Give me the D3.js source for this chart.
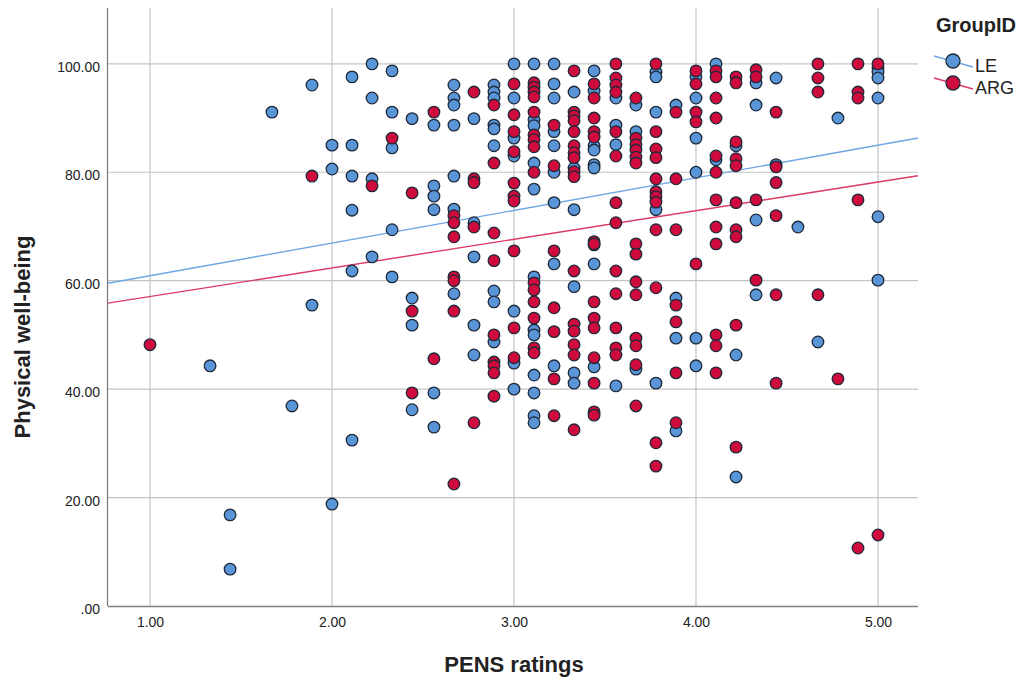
<!DOCTYPE html>
<html><head><meta charset="utf-8">
<script src="https://cdn.jsdelivr.net/npm/d3@7"></script>
<style>body{margin:0;background:#fff}svg{display:block}text{font-family:"Liberation Sans",Arial,sans-serif}</style>
</head><body><svg id="c" width="1029" height="686"></svg>
<script>
// ---- data ----
const groups = ["LE", "ARG"];
const xTicks = [1, 2, 3, 4, 5];
const yTicks = [0, 20, 40, 60, 80, 100];
// LE: PENS rating, physical well-being
const leX = [1.33,1.44,1.44,1.67,1.78,1.89,1.89,2.00,2.00,2.00,
 2.11,2.11,2.11,2.11,2.11,2.11,2.22,2.22,2.22,2.22,
 2.33,2.33,2.33,2.33,2.33,2.44,2.44,2.44,2.44,
 2.56,2.56,2.56,2.56,2.56,2.56,
 2.67,2.67,2.67,2.67,2.67,2.67,2.67,
 2.78,2.78,2.78,2.78,2.78,
 2.89,2.89,2.89,2.89,2.89,2.89,2.89,2.89,2.89,
 3.00,3.00,3.00,3.00,3.00,3.00,3.00,
 3.11,3.11,3.11,3.11,3.11,3.11,3.11,3.11,3.11,3.11,3.11,3.11,
 3.22,3.22,3.22,3.22,3.22,3.22,3.22,3.22,3.22,
 3.33,3.33,3.33,3.33,3.33,3.33,
 3.44,3.44,3.44,3.44,3.44,3.44,3.44,3.44,3.44,
 3.56,3.56,3.56,3.56,3.67,3.67,3.67,
 3.78,3.78,3.78,3.78,3.78,3.89,3.89,3.89,3.89,
 4.00,4.00,4.00,4.00,4.00,4.00,4.11,4.11,4.22,4.22,4.22,
 4.33,4.33,4.33,4.33,4.44,4.44,4.56,4.67,4.78,
 5.00,5.00,5.00,5.00,5.00,5.00];
const leY = [44.3,16.8,6.8,91.1,36.9,96.1,55.5,85.0,80.6,18.8,
 97.6,85.0,79.3,73.0,61.8,30.6,100,93.7,78.8,64.4,
 98.7,91.1,84.5,69.4,60.7,89.9,56.8,51.8,36.2,
 88.7,77.5,75.6,73.1,39.3,33.0,
 96.1,93.7,92.4,88.7,79.3,73.2,57.6,
 89.9,70.7,64.4,51.8,46.3,
 96.1,94.8,93.7,88.7,88.0,84.9,58.1,56.1,48.7,
 100,93.7,86.3,83.0,54.4,44.8,40.0,
 100,89.7,88.6,81.7,76.9,60.7,50.9,50.0,42.6,39.3,35.1,33.8,
 100,96.3,93.7,87.5,84.9,80.0,74.4,63.1,44.3,
 94.8,80.8,73.1,58.9,43.0,41.1,
 98.7,95.0,84.9,84.1,81.4,80.8,66.6,63.1,44.1,
 93.7,88.7,85.1,40.6,92.4,87.5,43.7,
 98.5,97.6,91.1,73.1,41.1,92.4,56.8,49.4,32.3,
 97.6,93.7,86.3,80.0,49.4,44.3,100,82.3,84.9,46.3,23.8,
 96.5,92.4,71.2,57.4,97.4,81.4,69.9,48.7,90.0,
 99.3,98.5,97.4,93.7,71.8,60.1];
// ARG: PENS rating, physical well-being
const argX = [1.00,1.89,2.22,2.33,2.44,2.44,2.44,2.56,2.56,
 2.67,2.67,2.67,2.67,2.67,2.67,2.67,
 2.78,2.78,2.78,2.78,2.78,
 2.89,2.89,2.89,2.89,2.89,2.89,2.89,2.89,2.89,
 3.00,3.00,3.00,3.00,3.00,3.00,3.00,3.00,3.00,3.00,
 3.11,3.11,3.11,3.11,3.11,3.11,3.11,3.11,3.11,3.11,3.11,3.11,3.11,3.11,3.11,
 3.22,3.22,3.22,3.22,3.22,3.22,3.22,
 3.33,3.33,3.33,3.33,3.33,3.33,3.33,3.33,3.33,3.33,3.33,3.33,3.33,3.33,3.33,3.33,
 3.44,3.44,3.44,3.44,3.44,3.44,3.44,3.44,3.44,3.44,3.44,3.44,3.44,3.44,
 3.56,3.56,3.56,3.56,3.56,3.56,3.56,3.56,3.56,3.56,3.56,3.56,3.56,
 3.67,3.67,3.67,3.67,3.67,3.67,3.67,3.67,3.67,3.67,3.67,3.67,3.67,3.67,
 3.78,3.78,3.78,3.78,3.78,3.78,3.78,3.78,3.78,3.78,3.78,3.78,
 3.89,3.89,3.89,3.89,3.89,3.89,3.89,
 4.00,4.00,4.00,4.00,4.00,
 4.11,4.11,4.11,4.11,4.11,4.11,4.11,4.11,4.11,4.11,4.11,4.11,
 4.22,4.22,4.22,4.22,4.22,4.22,4.22,4.22,4.22,4.22,
 4.33,4.33,4.33,4.33,4.44,4.44,4.44,4.44,4.44,4.44,
 4.67,4.67,4.67,4.67,4.78,4.89,4.89,4.89,4.89,4.89,5.00,5.00];
const argY = [48.2,79.3,77.5,86.3,76.2,54.4,39.3,91.1,45.6,
 72.0,70.7,68.1,60.7,60.0,54.4,22.5,
 94.8,78.8,78.1,69.9,33.8,
 92.4,81.7,68.8,63.7,50.0,45.0,44.3,43.0,38.7,
 96.3,90.6,87.5,83.8,78.0,75.6,74.7,65.5,51.3,45.8,
 96.5,95.7,94.8,93.9,91.1,86.9,86.0,84.7,80.0,59.6,58.3,56.1,53.1,47.6,46.7,
 88.7,81.2,65.5,55.0,50.6,41.9,35.1,
 98.7,91.1,90.4,89.5,87.5,84.9,83.6,82.7,80.1,79.2,61.8,52.0,50.7,48.2,46.3,32.5,
 96.3,93.7,90.0,87.5,86.5,67.2,66.8,56.1,53.1,51.3,45.8,41.1,35.8,35.2,
 100,97.4,96.1,94.8,87.5,83.0,74.4,70.7,61.8,57.6,51.3,47.6,46.3,
 93.7,86.3,85.1,84.1,82.8,81.7,66.8,64.9,59.8,57.4,49.4,48.0,44.5,36.9,
 100,87.5,84.3,82.7,78.8,76.4,75.5,74.5,69.4,58.7,30.1,25.8,
 91.1,78.8,69.4,55.5,52.4,43.0,33.8,
 98.7,96.3,91.1,89.3,63.1,
 98.7,97.6,93.7,90.0,83.0,80.0,74.9,69.9,66.8,50.0,48.0,43.0,
 97.6,96.5,85.6,82.5,81.2,74.4,69.4,68.1,51.8,29.3,
 98.9,97.6,74.9,60.1,91.1,81.0,78.1,72.0,57.4,41.1,
 100,97.4,94.8,57.4,41.9,100,94.8,93.7,74.9,10.7,100,13.1];
// fit lines (intercept, slope)
const fitIntercept = [54.9, 51.8];
const fitSlope = [6.02, 5.28];

// ---- styles ----
const fills = ["#5a95d8", "#cf0a3c"];
const lineCols = ["#6fa6e3", "#dc3a64"];

const svg = d3.select("#c");
const L = 108, R = 918, T = 8, B = 606;
const x = d3.scaleLinear().domain([1 - (150 - L) / 182, 1 + (R - 150) / 182]).range([L, R]);
const y = d3.scaleLinear().domain([0, 110.3]).range([B, T]);

// gridlines
svg.append("g").selectAll("line").data(yTicks.filter(d => d > 0)).join("line")
  .attr("x1", L).attr("x2", R).attr("y1", d => y(d)).attr("y2", d => y(d))
  .attr("stroke", "#c4c4c4").attr("stroke-width", 1.2);
svg.append("g").selectAll("line").data(xTicks).join("line")
  .attr("x1", d => x(d)).attr("x2", d => x(d)).attr("y1", T).attr("y2", B)
  .attr("stroke", "#c4c4c4").attr("stroke-width", 1.2);

// axes
const fmt = d => { const s = d3.format(".2f")(d); return d === 0 ? s.replace(/^0/, "") : s; };
const yAxis = svg.append("g").attr("transform", `translate(${L},0)`)
  .call(d3.axisLeft(y).tickValues(yTicks).tickFormat(fmt).tickSize(0).tickPadding(8));
const xAxis = svg.append("g").attr("transform", `translate(0,${B})`)
  .call(d3.axisBottom(x).tickValues(xTicks).tickFormat(fmt).tickSize(0).tickPadding(11));
[yAxis, xAxis].forEach(g => {
  g.select(".domain").attr("stroke", "#808080").attr("stroke-width", 1.3);
  g.selectAll(".tick line").remove();
  g.selectAll(".tick text").attr("font-size", 14).attr("fill", "#222")
    .attr("font-family", "Liberation Sans, Arial, sans-serif");
});
yAxis.selectAll(".tick text").attr("dy", "0.55em");
yAxis.select(".domain").attr("d", `M-0.5,${B}V${T}`);
xAxis.select(".domain").attr("d", `M${L},0.5H${R}`);

// fit lines
groups.forEach((g, i) => {
  const d0 = x.domain();
  svg.append("line")
    .attr("x1", x(d0[0])).attr("y1", y(fitIntercept[i] + fitSlope[i] * d0[0]))
    .attr("x2", x(d0[1])).attr("y2", y(fitIntercept[i] + fitSlope[i] * d0[1]))
    .attr("stroke", lineCols[i]).attr("stroke-width", 1.4);
});

// points
const pts = [];
leX.forEach((v, i) => pts.push({x: v, y: leY[i], g: 0}));
argX.forEach((v, i) => pts.push({x: v, y: argY[i], g: 1}));
svg.append("g").selectAll("circle").data(pts).join("circle")
  .attr("cx", d => x(d.x)).attr("cy", d => y(d.y)).attr("r", 5.8)
  .attr("fill", d => fills[d.g]).attr("stroke", "#1e2a3a").attr("stroke-width", 1.3);

// axis titles
svg.append("text").attr("x", 514).attr("y", 672).attr("text-anchor", "middle")
  .attr("font-size", 22).attr("font-weight", "bold").attr("fill", "#222").text("PENS ratings");
svg.append("text").attr("transform", "translate(30,337) rotate(-90)").attr("text-anchor", "middle")
  .attr("font-size", 22).attr("font-weight", "bold").attr("fill", "#222").text("Physical well-being");

// legend
const lg = svg.append("g");
lg.append("text").attr("x", 936).attr("y", 32).attr("font-size", 20).attr("font-weight", "bold")
  .attr("fill", "#222").text("GroupID");
groups.forEach((g, i) => {
  const cy = 61 + i * 22;
  lg.append("line").attr("x1", 934).attr("y1", cy - 5).attr("x2", 973).attr("y2", cy + 6)
    .attr("stroke", lineCols[i]).attr("stroke-width", 1.4);
  lg.append("circle").attr("cx", 953).attr("cy", cy).attr("r", 7)
    .attr("fill", fills[i]).attr("stroke", "#1e2a3a").attr("stroke-width", 1.3);
  lg.append("text").attr("x", 975).attr("y", cy + 11).attr("font-size", 18).attr("fill", "#222").text(g);
});
</script></body></html>
